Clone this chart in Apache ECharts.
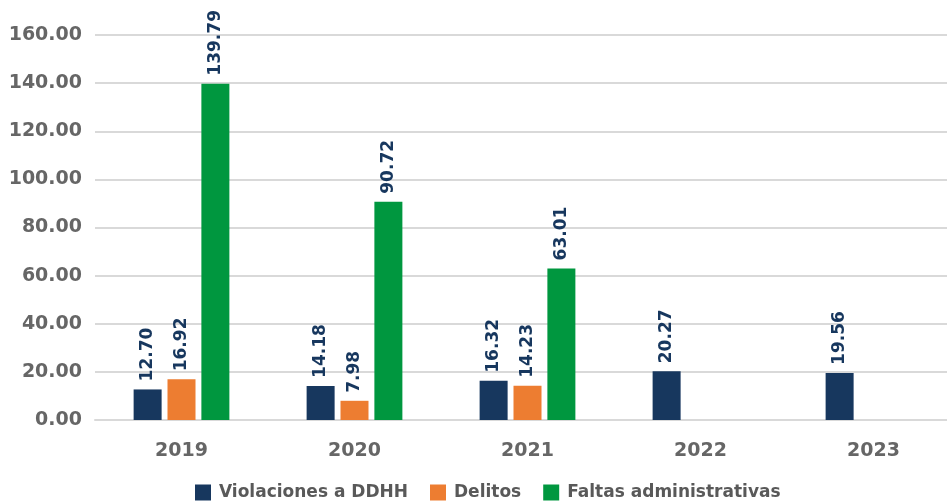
<!DOCTYPE html>
<html>
<head>
<meta charset="utf-8">
<script src="https://cdn.jsdelivr.net/npm/echarts@6/dist/echarts.min.js"></script>
<style>
  html, body { margin: 0; padding: 0; background: #fff; }
  #chart { width: 947px; height: 502px; }
</style>
</head>
<body>
<div id="chart"></div>
<script>
const years = ['2019', '2020', '2021', '2022', '2023'];
const violaciones = [12.70, 14.18, 16.32, 20.27, 19.56];
const delitos = [16.92, 7.98, 14.23, null, null];
const faltas = [139.79, 90.72, 63.01, null, null];

const FONT = 'DejaVu Sans';

// etiqueta girada sobre cada barra
const valueLabel = {
  show: true,
  position: 'top',
  rotate: 90,
  align: 'left',
  verticalAlign: 'middle',
  distance: 8,
  color: '#17375E',
  fontFamily: FONT,
  fontWeight: 'bold',
  fontSize: 17,
  formatter: (p) => p.value == null ? '' : p.value.toFixed(2),
};

const makeSeries = (name, data, color) => ({
  name,
  type: 'bar',
  data,
  barWidth: 28,
  barGap: '21%',
  itemStyle: { color },
  label: valueLabel,
});

const chart = echarts.init(document.getElementById('chart'));
chart.setOption({
  animation: false,
  grid: {
    left: 95,
    top: 35,
    width: 865,
    height: 385,
    containLabel: false,
    outerBoundsMode: 'none',
  },
  legend: {
    left: 190,
    top: 479,
    itemWidth: 16,
    itemHeight: 16,
    itemGap: 22,
    icon: 'rect',
    textStyle: {
      color: '#595959',
      fontFamily: FONT,
      fontWeight: 'bold',
      fontSize: 17,
      padding: [0, 0, 0, 3],
    },
    data: ['Violaciones a DDHH', 'Delitos', 'Faltas administrativas'],
  },
  xAxis: {
    type: 'category',
    data: years,
    axisLine: { lineStyle: { color: '#d9d9d9', width: 2 } },
    axisTick: { show: false },
    axisLabel: {
      margin: 22,
      color: '#666666',
      fontFamily: FONT,
      fontWeight: 'bold',
      fontSize: 19,
    },
  },
  yAxis: {
    type: 'value',
    min: 0,
    max: 160,
    interval: 20,
    axisLine: { show: false },
    axisTick: { show: false },
    splitLine: { lineStyle: { color: '#d9d9d9', width: 2 } },
    axisLabel: {
      margin: 13,
      color: '#666666',
      fontFamily: FONT,
      fontWeight: 'bold',
      fontSize: 19,
      formatter: (v) => v.toFixed(2),
    },
  },
  series: [
    makeSeries('Violaciones a DDHH', violaciones, '#17375E'),
    makeSeries('Delitos', delitos, '#ED7D31'),
    makeSeries('Faltas administrativas', faltas, '#00973F'),
  ],
});
</script>
</body>
</html>
